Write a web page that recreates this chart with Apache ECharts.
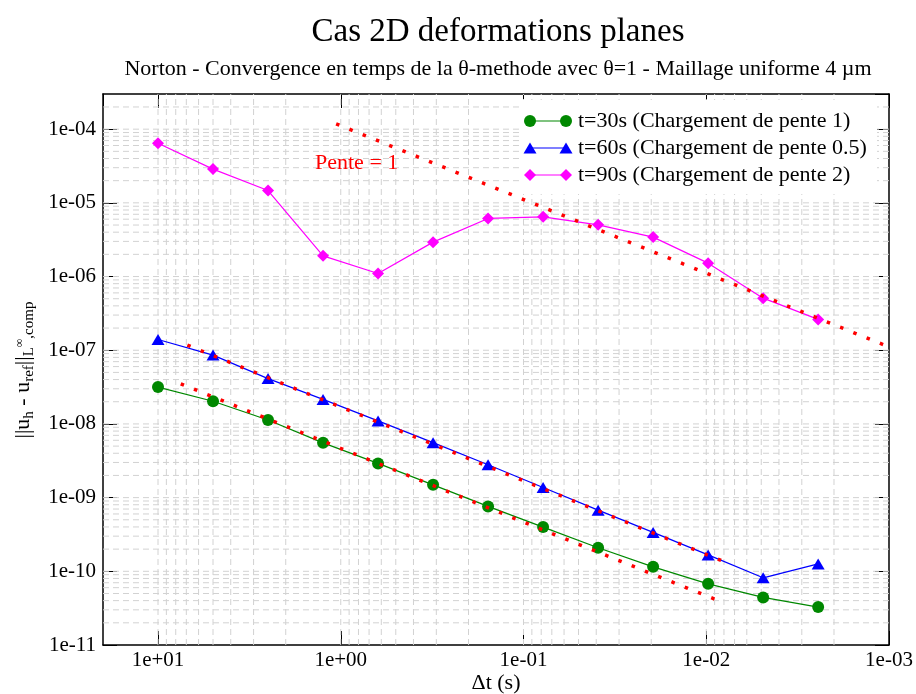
<!DOCTYPE html>
<html><head><meta charset="utf-8">
<script src="https://cdn.jsdelivr.net/npm/echarts@6/dist/echarts.min.js"></script>
<style>html,body{margin:0;padding:0;background:#fff}#c{width:916px;height:694px}</style>
</head><body><div id="c"></div>
<script>
// ---- data ----
const dt = [10, 5, 2.5, 1.25, 0.625, 0.3125, 0.15625, 0.078125, 0.0390625, 0.01953125, 0.009765625, 0.0048828125, 0.00244140625];
const err30 = [3.16e-8, 2.03e-8, 1.13e-8, 5.54e-9, 2.91e-9, 1.49e-9, 7.6e-10, 3.98e-10, 2.09e-10, 1.15e-10, 6.76e-11, 4.42e-11, 3.27e-11];
const err60 = [1.40e-7, 8.59e-8, 4.12e-8, 2.15e-8, 1.10e-8, 5.57e-9, 2.79e-9, 1.37e-9, 6.76e-10, 3.37e-10, 1.67e-10, 8.16e-11, 1.26e-10];
const err90 = [6.45e-5, 2.87e-5, 1.47e-5, 1.91e-6, 1.10e-6, 2.93e-6, 6.14e-6, 6.46e-6, 5.03e-6, 3.43e-6, 1.52e-6, 5.09e-7, 2.62e-7];
const slopeTopX = [1.06, 0.001], slopeTopY = [1.18e-4, 1.11e-7];
const slopeMidX = [6.91, 0.00785], slopeMidY = [1.172e-7, 1.33e-10];
const slopeLowX = [7.51, 0.00843], slopeLowY = [3.5e-8, 3.93e-11];
const seriesNames = ['t=30s (Chargement de pente 1)', 't=60s (Chargement de pente 0.5)', 't=90s (Chargement de pente 2)'];
const seriesColors = ['#008800', '#0000ff', '#ff00ff'];
const xTickValues = [10, 1, 0.1, 0.01, 0.001];
const xTickLabels = ['1e+01', '1e+00', '1e-01', '1e-02', '1e-03'];
const yTickValues = [1e-4, 1e-5, 1e-6, 1e-7, 1e-8, 1e-9, 1e-10, 1e-11];
const yTickLabels = ['1e-04', '1e-05', '1e-06', '1e-07', '1e-08', '1e-09', '1e-10', '1e-11'];
const titleText = 'Cas 2D deformations planes';
const subText = 'Norton - Convergence en temps de la θ-methode avec θ=1 - Maillage uniforme 4 µm';
const xAxisTitle = 'Δt (s)';
const slopeText = 'Pente = 1';

// ---- build ----
const FONT = "'Liberation Serif','DejaVu Serif',serif";
const pair = (xs, ys) => xs.map((x, i) => [x, ys[i]]);
function labelFor(values, labels) {
  return v => {
    for (let i = 0; i < values.length; i++) if (Math.abs(Math.log10(v) - Math.log10(values[i])) < 1e-6) return labels[i];
    return '';
  };
}
const XMIN = 0.001, XMAX = 20, YMIN = 1e-11, YMAX = 3e-4;
const gridX = [], gridY = [];
for (let e = -3; e <= 1; e++) for (let m = 1; m <= 9; m++) { const v = m * Math.pow(10, e); if (v > XMIN * 1.0001 && v < XMAX * 0.999) gridX.push(v); }
for (let e = -11; e <= -4; e++) for (let m = 1; m <= 9; m++) { const v = m * Math.pow(10, e); if (v > YMIN * 1.0001 && v < YMAX * 0.999) gridY.push(v); }
const gridSegs = gridX.map(v => [v, YMIN, v, YMAX]).concat(gridY.map(v => [XMIN, v, XMAX, v]));

const baseX = { type: 'log', logBase: 10, inverse: true, min: XMIN, max: XMAX };
const baseY = { type: 'log', logBase: 10, min: YMIN, max: YMAX };
const axLine = { show: true, onZero: false, lineStyle: { color: '#000', width: 1.5 } };
const tick = { show: true, inside: true, length: 14, lineStyle: { color: '#000', width: 1 } };

// legend drawn as graphics (line with a marker at both ends)
const LEG_X0 = 530, LEG_X1 = 566, LEG_TX = 578, LEG_Y = [121, 148, 175];
function marker(kind, cx, cy, color) {
  if (kind === 0) return { type: 'circle', shape: { cx: cx, cy: cy, r: 6 }, style: { fill: color }, z: 102 };
  if (kind === 1) return { type: 'polygon', shape: { points: [[cx - 6.5, cy + 5.5], [cx, cy - 5.5], [cx + 6.5, cy + 5.5]] }, style: { fill: color }, z: 102 };
  return { type: 'polygon', shape: { points: [[cx, cy - 6], [cx + 6, cy], [cx, cy + 6], [cx - 6, cy]] }, style: { fill: color }, z: 102 };
}
const legendGraphics = [{ type: 'rect', shape: { x: 521, y: 100, width: 356, height: 94 }, style: { fill: '#fff' }, z: 100 }];
seriesNames.forEach((nm, i) => {
  const y = LEG_Y[i], c = seriesColors[i];
  legendGraphics.push({ type: 'line', shape: { x1: LEG_X0, y1: y, x2: LEG_X1, y2: y }, style: { stroke: c, lineWidth: 1.2 }, z: 101 });
  legendGraphics.push(marker(i, LEG_X0, y, c));
  legendGraphics.push(marker(i, LEG_X1, y, c));
  legendGraphics.push({ type: 'text', x: LEG_TX, y: y, z: 102,
    style: { text: nm, fill: '#000', font: "22px 'Liberation Serif', serif", verticalAlign: 'middle', align: 'left' } });
});

const option = {
  animation: false,
  backgroundColor: '#fff',
  title: [
    { text: titleText, left: 493, top: 11, textAlign: 'center',
      textStyle: { fontFamily: FONT, fontSize: 33, fontWeight: 'normal', color: '#000' } },
    { text: subText, left: 493, top: 53, textAlign: 'center',
      textStyle: { fontFamily: FONT, fontSize: 22, fontWeight: 'normal', color: '#000' } }
  ],
  grid: { left: 103, right: 27, top: 94, bottom: 49, containLabel: false, outerBoundsMode: 'none' },
  xAxis: [
    Object.assign({}, baseX, {
      position: 'bottom',
      axisLine: axLine, axisTick: tick,
      axisLabel: { margin: 5, fontFamily: FONT, fontSize: 21, color: '#000', formatter: labelFor(xTickValues, xTickLabels), showMaxLabel: false },
      splitLine: { show: false }
    }),
    Object.assign({}, baseX, {
      position: 'top', axisLine: axLine, axisTick: tick, axisLabel: { show: false }, splitLine: { show: false }
    })
  ],
  yAxis: [
    Object.assign({}, baseY, {
      position: 'left', axisLine: axLine, axisTick: tick,
      axisLabel: { margin: 7, fontFamily: FONT, fontSize: 21, color: '#000', formatter: labelFor(yTickValues, yTickLabels), showMaxLabel: false },
      splitLine: { show: false }
    }),
    Object.assign({}, baseY, {
      position: 'right', axisLine: axLine, axisTick: tick, axisLabel: { show: false }, splitLine: { show: false }
    })
  ],
  graphic: legendGraphics.concat([
    { type: 'text', left: 315, top: 152, z: 50,
      style: { text: slopeText, font: "22px 'Liberation Serif', serif", fill: '#ff0000' } },
    { type: 'text', x: 496, y: 683, z: 50,
      style: { text: xAxisTitle, font: "22px 'Liberation Serif', serif", fill: '#000', align: 'center', verticalAlign: 'middle' } },
    { type: 'text', x: 23, y: 370, rotation: Math.PI / 2, z: 50,
      style: {
        text: '{m|||u}{s|h}{m| - u}{s|ref}{m|||}{s|L}{p|∞}{s|,comp}',
        align: 'center', verticalAlign: 'middle',
        rich: {
          m: { fontFamily: FONT, fontSize: 22, fill: '#000' },
          s: { fontFamily: FONT, fontSize: 15, fill: '#000', padding: [13, 0, 0, 0] },
          p: { fontFamily: FONT, fontSize: 12, fill: '#000', padding: [0, 0, 6, 0] }
        }
      } }
  ]),
  series: [
    { name: '__grid', type: 'custom', silent: true, z: 1, clip: true,
      data: gridSegs, encode: { x: [0, 2], y: [1, 3] },
      renderItem: function (params, api) {
        const a = api.coord([api.value(0), api.value(1)]);
        const b = api.coord([api.value(2), api.value(3)]);
        return { type: 'line', shape: { x1: a[0], y1: a[1], x2: b[0], y2: b[1] },
          style: { stroke: '#d2d2d2', lineWidth: 1, lineDash: [6, 4] } };
      } },
    { name: seriesNames[0], type: 'line', data: pair(dt, err30), z: 3,
      symbol: 'circle', symbolSize: 12,
      lineStyle: { width: 1.2, color: seriesColors[0] }, itemStyle: { color: seriesColors[0] } },
    { name: seriesNames[1], type: 'line', data: pair(dt, err60), z: 3,
      symbol: 'triangle', symbolSize: [13, 11],
      lineStyle: { width: 1.2, color: seriesColors[1] }, itemStyle: { color: seriesColors[1] } },
    { name: seriesNames[2], type: 'line', data: pair(dt, err90), z: 3,
      symbol: 'diamond', symbolSize: 12,
      lineStyle: { width: 1.2, color: seriesColors[2] }, itemStyle: { color: seriesColors[2] } },
    { name: 'slopeTop', type: 'line', data: pair(slopeTopX, slopeTopY), symbol: 'none', z: 5, silent: true,
      lineStyle: { color: '#ff0000', width: 3.5, type: [3.5, 10.8], cap: 'butt' } },
    { name: 'slopeMid', type: 'line', data: pair(slopeMidX, slopeMidY), symbol: 'none', z: 5, silent: true,
      lineStyle: { color: '#ff0000', width: 3.5, type: [3.5, 10.8], cap: 'butt' } },
    { name: 'slopeLow', type: 'line', data: pair(slopeLowX, slopeLowY), symbol: 'none', z: 5, silent: true,
      lineStyle: { color: '#ff0000', width: 3.5, type: [3.5, 10.8], cap: 'butt' } }
  ]
};
const chart = echarts.init(document.getElementById('c'), null, { renderer: 'canvas' });
chart.setOption(option);
</script></body></html>
